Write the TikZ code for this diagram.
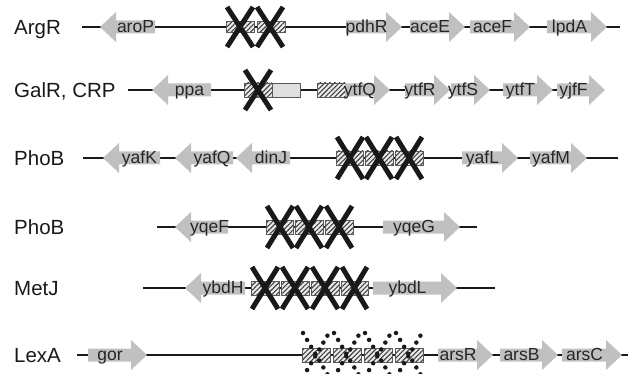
\documentclass[tikz,border=0pt]{standalone}
\usepackage{fontspec}
\setmainfont{Liberation Sans}
\usepackage{xcolor}
\usetikzlibrary{patterns.meta}

\definecolor{genegray}{RGB}{192,192,192}

% gene arrows: name, start x, tip x, label
\newcommand{\geneR}[4]{%
	\fill[genegray] (#2,-6.5) -- (#3-16,-6.5) -- (#3-16,-15) -- (#3,0) -- (#3-16,15) -- (#3-16,6.5) -- (#2,6.5) -- cycle;
	\node[genelabel] (#1) at ({(#2+#3-15)/2},5.5) {#4};}
\newcommand{\geneL}[4]{%
	\fill[genegray] (#3,-6.5) -- (#2+16,-6.5) -- (#2+16,-15) -- (#2,0) -- (#2+16,15) -- (#2+16,6.5) -- (#3,6.5) -- cycle;
	\node[genelabel] (#1) at ({(#2+16+#3)/2},5.5) {#4};}

\begin{document}
\begin{tikzpicture}[x=1pt, y=-1pt,
	backbone/.style={line width=1.4pt, black!90},
	rowlabel/.style={anchor=base west, inner sep=0pt, text=black!90, font=\fontsize{20.5}{20.5}\selectfont},
	genelabel/.style={anchor=base, inner sep=0pt, text=black!85, font=\fontsize{17.5}{17.5}\selectfont},
	site/.style={draw=gray!70!black, line width=0.6pt, preaction={fill=gray!15},
		pattern={Lines[angle=45,distance=3.4pt,line width=1.1pt]}, pattern color=black!75},
	dotsite/.style={draw=gray!70!black, line width=0.6pt, preaction={fill=gray!20},
		pattern={Dots[distance=2pt,radius=0.45pt]}, pattern color=gray!75},
	knock/.style={line width=5pt, black!90},
	lexknock/.style={line width=4.5pt, black!90, line cap=round, dash pattern=on 0pt off 8pt}]
	\useasboundingbox (0,0) rectangle (631,374);
	\clip (0,0) rectangle (631,374);

	% ArgR
	\begin{scope}[shift={(0,27)}]
	\node[rowlabel] (lArgR) at (14,7.5) {ArgR};
	\coordinate (argR-a) at (82,0);
	\coordinate (argR-b) at (620,0);
	\draw[backbone] (argR-a) -- (argR-b);
	\geneL{aroP}{100}{155}{aroP}
	\draw[site] (226,-5.5) rectangle (254,5.5);
	\draw[site] (257,-5.5) rectangle (285,5.5);
	\draw[knock] (227,-20) -- (253,20) (227,20) -- (253,-20);
	\draw[knock] (257,-20) -- (283,20) (257,20) -- (283,-20);
	\geneR{pdhR}{346}{402}{pdhR}
	\geneR{aceE}{410}{465}{aceE}
	\geneR{aceF}{470}{530}{aceF}
	\geneR{lpdA}{547}{607}{lpdA}
	\end{scope}

	% GalR, CRP
	\begin{scope}[shift={(0,90)}]
	\node[rowlabel] (lGalR) at (14,7.5) {GalR, CRP};
	\coordinate (galR-a) at (128,0);
	\coordinate (galR-b) at (600,0);
	\draw[backbone] (galR-a) -- (galR-b);
	\geneL{ppa}{152}{211}{ppa}
	\draw[site] (244,-7) rectangle (272,7);
	\draw[dotsite] (272,-7) rectangle (300,7);
	\draw[knock] (245,-20) -- (271,20) (245,20) -- (271,-20);
	\draw[site] (317,-7) rectangle (345,7);
	\geneR{ytfQ}{345}{390}{ytfQ}
	\geneR{ytfR}{405}{450}{ytfR}
	\geneR{ytfS}{451}{490}{ytfS}
	\geneR{ytfT}{503}{553}{ytfT}
	\geneR{yjfF}{557}{605}{yjfF}
	\end{scope}

	% PhoB (1)
	\begin{scope}[shift={(0,158)}]
	\node[rowlabel] (lPhoB1) at (14,7.5) {PhoB};
	\coordinate (phoB1-a) at (83,0);
	\coordinate (phoB1-b) at (618,0);
	\draw[backbone] (phoB1-a) -- (phoB1-b);
	\geneL{yafK}{103}{160}{yafK}
	\geneL{yafQ}{175}{233}{yafQ}
	\geneL{dinJ}{236}{290}{dinJ}
	\draw[site] (336,-7) rectangle (363,7);
	\draw[site] (365,-7) rectangle (393,7);
	\draw[site] (395,-7) rectangle (423,7);
	\draw[knock] (337,-21) -- (363,21) (337,21) -- (363,-21);
	\draw[knock] (366,-21) -- (392,21) (366,21) -- (392,-21);
	\draw[knock] (396,-21) -- (422,21) (396,21) -- (422,-21);
	\geneR{yafL}{462}{518}{yafL}
	\geneR{yafM}{530}{587}{yafM}
	\end{scope}

	% PhoB (2)
	\begin{scope}[shift={(0,227)}]
	\node[rowlabel] (lPhoB2) at (14,7.5) {PhoB};
	\coordinate (phoB2-a) at (157,0);
	\coordinate (phoB2-b) at (477,0);
	\draw[backbone] (phoB2-a) -- (phoB2-b);
	\geneL{yqeF}{175}{228}{yqeF}
	\draw[site] (266,-7) rectangle (293,7);
	\draw[site] (295,-7) rectangle (323,7);
	\draw[site] (325,-7) rectangle (353,7);
	\draw[knock] (267,-21) -- (293,21) (267,21) -- (293,-21);
	\draw[knock] (296,-21) -- (322,21) (296,21) -- (322,-21);
	\draw[knock] (326,-21) -- (352,21) (326,21) -- (352,-21);
	\geneR{yqeG}{383}{460}{yqeG}
	\end{scope}

	% MetJ
	\begin{scope}[shift={(0,288)}]
	\node[rowlabel] (lMetJ) at (14,7.5) {MetJ};
	\coordinate (metJ-a) at (143,0);
	\coordinate (metJ-b) at (495,0);
	\draw[backbone] (metJ-a) -- (metJ-b);
	\geneL{ybdH}{185}{245}{ybdH}
	\draw[site] (251,-7) rectangle (279,7);
	\draw[site] (281,-7) rectangle (309,7);
	\draw[site] (311,-7) rectangle (339,7);
	\draw[site] (341,-7) rectangle (368,7);
	\draw[knock] (252,-21) -- (278,21) (252,21) -- (278,-21);
	\draw[knock] (282,-21) -- (308,21) (282,21) -- (308,-21);
	\draw[knock] (312,-21) -- (338,21) (312,21) -- (338,-21);
	\draw[knock] (342,-21) -- (367,21) (342,21) -- (367,-21);
	\geneR{ybdL}{373}{457}{ybdL}
	\end{scope}

	% LexA
	\begin{scope}[shift={(0,355)}]
	\node[rowlabel] (lLexA) at (14,7.5) {LexA};
	\coordinate (lexA-a) at (77,0);
	\coordinate (lexA-b) at (628,0);
	\draw[backbone] (lexA-a) -- (lexA-b);
	\geneR{gor}{88}{147}{gor}
	\draw[site] (302,-7) rectangle (330,7);
	\draw[site] (333,-7) rectangle (361,7);
	\draw[site] (364,-7) rectangle (392,7);
	\draw[site] (395,-7) rectangle (423,7);
	\draw[lexknock] (303,-22) -- (329,22) (303,22) -- (329,-22);
	\draw[lexknock] (334,-22) -- (360,22) (334,22) -- (360,-22);
	\draw[lexknock] (365,-22) -- (391,22) (365,22) -- (391,-22);
	\draw[lexknock] (396,-22) -- (422,22) (396,22) -- (422,-22);
	\geneR{arsR}{438}{493}{arsR}
	\geneR{arsB}{500}{558}{arsB}
	\geneR{arsC}{562}{622}{arsC}
	\end{scope}

\end{tikzpicture}
\end{document}
